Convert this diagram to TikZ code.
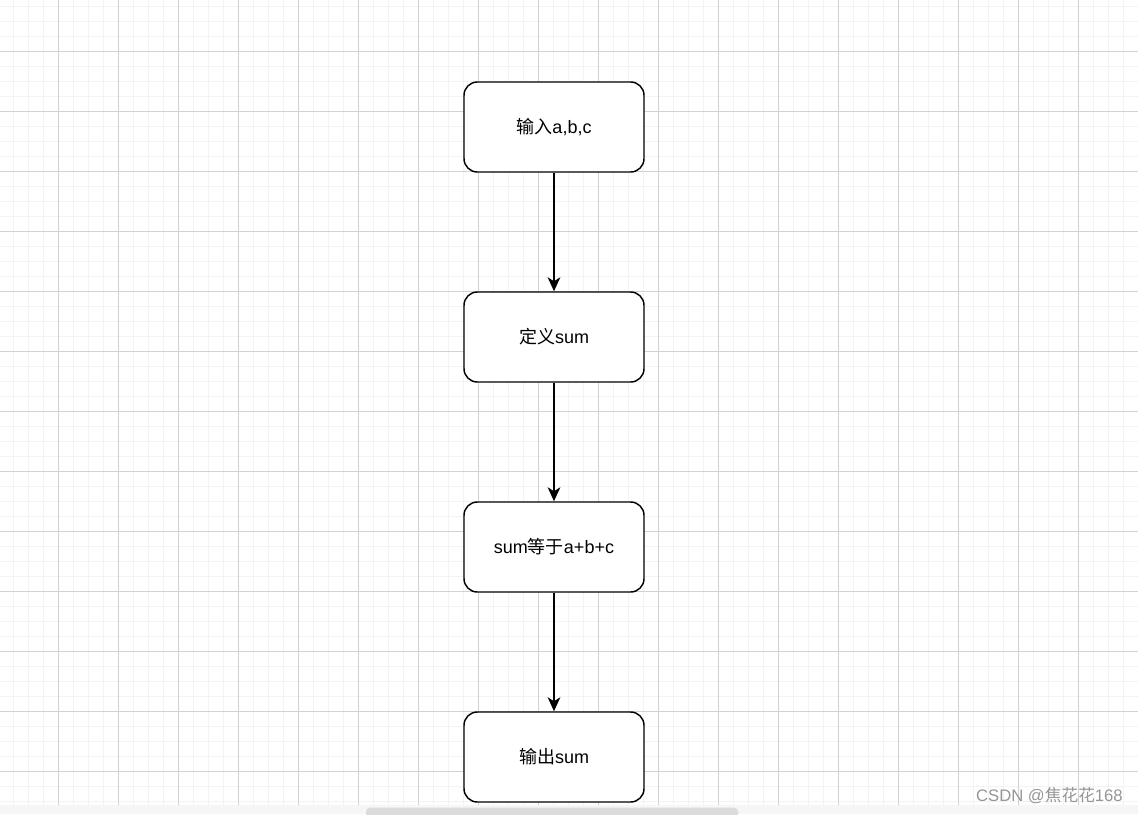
\documentclass[tikz,border=0pt]{standalone}
\usepackage{fontspec}
\setmainfont{Liberation Sans}
\newfontfamily\cjk{Noto Sans CJK SC}
\usetikzlibrary{arrows.meta}
\definecolor{minorgrid}{RGB}{243,243,243}
\definecolor{majorgrid}{RGB}{210,210,210}
\definecolor{bandgray}{RGB}{246,246,246}
\definecolor{scrollgray}{RGB}{220,220,220}
\definecolor{wmgray}{RGB}{150,150,150}
\tikzset{
  flowbox/.style={draw=black, line width=1.1pt, rounded corners=10pt,
    minimum width=135pt, minimum height=67.5pt, fill=white,
    font=\fontsize{13.5}{16}\selectfont, inner sep=0pt},
  flowarrow/.style={draw=black, line width=1.1pt,
    -{Stealth[length=10.5pt,width=9.5pt,inset=3pt]}},
}
\begin{document}
\begin{tikzpicture}[x=0.75pt,y=-0.75pt]
\useasboundingbox (0,0) rectangle (1138,814);
\fill[white] (0,0) rectangle (1138,814);
\foreach \x in {13,28,...,1138} \draw[minorgrid, line width=0.75pt] (\x,0) -- (\x,805);
\foreach \y in {6,21,...,805} \draw[minorgrid, line width=0.75pt] (0,\y) -- (1138,\y);
\foreach \x in {58,118,...,1138} \draw[majorgrid, line width=0.75pt] (\x,0) -- (\x,805);
\foreach \y in {51,111,...,805} \draw[majorgrid, line width=0.75pt] (0,\y) -- (1138,\y);
\fill[bandgray] (0,805) rectangle (1138,814);
\fill[scrollgray, rounded corners=3pt] (366,807.5) rectangle (738,818);

\node[flowbox] (n1) at (554,127) {{\cjk 输入}a,b,c};
\node[flowbox] (n2) at (554,337) {{\cjk 定义}sum};
\node[flowbox] (n3) at (554,547) {sum{\cjk 等于}a+b+c};
\node[flowbox] (n4) at (554,757) {{\cjk 输出}sum};

\draw[flowarrow] (n1) -- (n2);
\draw[flowarrow] (n2) -- (n3);
\draw[flowarrow] (n3) -- (n4);

\node[anchor=east, text=wmgray, inner sep=0pt, font=\fontsize{12.5}{14}\selectfont] (wm) at (1123,796) {CSDN @{\cjk 焦花花}168};
\end{tikzpicture}
\end{document}
